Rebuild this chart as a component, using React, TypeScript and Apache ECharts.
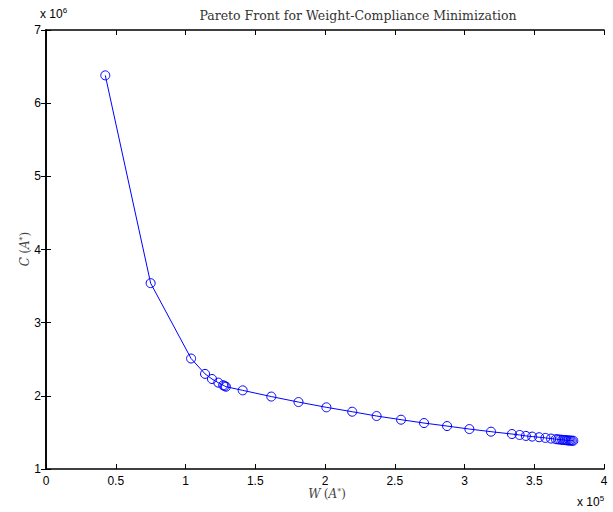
import React, { useEffect, useRef } from "react";
import * as echarts from "echarts";

// Weight W (in units of 1e5) and compliance C (in units of 1e6)
const weightE5: number[] = [
  0.425, 0.75, 1.04, 1.14, 1.19, 1.235, 1.27, 1.28, 1.29, 1.41, 1.615, 1.81,
  2.01, 2.195, 2.37, 2.545, 2.71, 2.875, 3.035, 3.19, 3.34, 3.395, 3.44, 3.485,
  3.535, 3.58, 3.62, 3.655, 3.67, 3.685, 3.7, 3.71, 3.72, 3.73, 3.74, 3.75,
  3.76, 3.77, 3.78,
];
const complianceE6: number[] = [
  6.38, 3.54, 2.51, 2.3, 2.23, 2.18, 2.145, 2.135, 2.125, 2.075, 1.99, 1.915,
  1.843, 1.783, 1.724, 1.674, 1.628, 1.587, 1.546, 1.51, 1.478, 1.465, 1.452,
  1.443, 1.434, 1.425, 1.416, 1.408, 1.405, 1.402, 1.399, 1.397, 1.395, 1.393,
  1.391, 1.389, 1.388, 1.387, 1.386,
];

const title = "Pareto Front for Weight-Compliance Minimization";
const xTicks = { min: 0, max: 4e5, interval: 0.5e5, scale: 1e5 };
const yTicks = { min: 1e6, max: 7e6, interval: 1e6, scale: 1e6 };

const G = { left: 46, right: 9, top: 30, bottom: 43 };

export default function App() {
  const ref = useRef<HTMLDivElement>(null);
  useEffect(() => {
    if (!ref.current) return;
    const chart = echarts.init(ref.current, null, { renderer: "svg" });
    const data = weightE5.map((w, i) => [w * 1e5, complianceE6[i] * 1e6]);
    const tickFont = {
      fontFamily: "Liberation Sans, Arial, sans-serif",
      fontSize: 12,
      color: "#000",
    };
    const axisLine = { show: true, lineStyle: { color: "#000", width: 1.6 } };
    const tick = { show: true, inside: true, length: 5, lineStyle: { color: "#000", width: 1 } };
    const mathRich = {
      i: { fontFamily: "DejaVu Serif, serif", fontStyle: "italic", fontSize: 12, fill: "#444" },
      n: { fontFamily: "DejaVu Serif, serif", fontSize: 12, fill: "#444" },
      s: { fontFamily: "DejaVu Serif, serif", fontSize: 8, fill: "#444", verticalAlign: "top", padding: [0, 0, 6, 0] },
    };
    const sciRich = {
      a: { fontFamily: "Liberation Sans, Arial, sans-serif", fontSize: 12, fill: "#000" },
      b: { fontFamily: "Liberation Sans, Arial, sans-serif", fontSize: 8, fill: "#000", verticalAlign: "top", padding: [0, 0, 8, 0] },
    };
    chart.setOption({
      animation: false,
      backgroundColor: "#fff",
      grid: { ...G },
      xAxis: [
        {
          type: "value",
          min: xTicks.min,
          max: xTicks.max,
          interval: xTicks.interval,
          position: "bottom",
          axisLine,
          axisTick: tick,
          splitLine: { show: false },
          axisLabel: {
            ...tickFont,
            margin: 6,
            formatter: (v: number) => String(+(v / xTicks.scale).toFixed(1)),
          },
        },
        {
          type: "value",
          min: xTicks.min,
          max: xTicks.max,
          interval: xTicks.interval,
          position: "top",
          axisLine,
          axisTick: tick,
          splitLine: { show: false },
          axisLabel: { show: false },
        },
      ],
      yAxis: [
        {
          type: "value",
          min: yTicks.min,
          max: yTicks.max,
          interval: yTicks.interval,
          position: "left",
          axisLine,
          axisTick: tick,
          splitLine: { show: false },
          axisLabel: {
            ...tickFont,
            margin: 5,
            formatter: (v: number) => String(+(v / yTicks.scale).toFixed(1)),
          },
        },
        {
          type: "value",
          min: yTicks.min,
          max: yTicks.max,
          interval: yTicks.interval,
          position: "right",
          axisLine,
          axisTick: tick,
          splitLine: { show: false },
          axisLabel: { show: false },
        },
      ],
      series: [
        {
          type: "line",
          data,
          xAxisIndex: 0,
          yAxisIndex: 0,
          symbol: "circle",
          symbolSize: 9,
          showAllSymbol: true,
          itemStyle: { color: "rgba(0,0,0,0)", borderColor: "#0000ff", borderWidth: 1 },
          lineStyle: { color: "#0000ff", width: 1 },
          emphasis: { disabled: true },
          z: 3,
        },
      ],
      graphic: [
        {
          type: "text",
          x: 358,
          y: 15,
          style: {
            text: title,
            fontFamily: "DejaVu Serif, serif",
            fontSize: 12.5,
            fill: "#333",
            align: "center",
            verticalAlign: "middle",
          },
        },
        {
          type: "text",
          x: 40,
          y: 6,
          style: { text: "{a|x 10}{b|6}", rich: sciRich },
        },
        {
          type: "text",
          x: 577,
          y: 494,
          style: { text: "{a|x 10}{b|5}", rich: sciRich },
        },
        {
          type: "text",
          x: 327,
          y: 494,
          style: {
            text: "{i|W} {n|(}{i|A}{s|*}{n|)}",
            rich: mathRich,
            align: "center",
            verticalAlign: "middle",
          },
        },
        {
          type: "text",
          x: 25,
          y: 249,
          rotation: Math.PI / 2,
          style: {
            text: "{i|C} {n|(}{i|A}{s|*}{n|)}",
            rich: mathRich,
            align: "center",
            verticalAlign: "middle",
          },
        },
      ],
    });
    return () => chart.dispose();
  }, []);
  return (
    <div
      ref={ref}
      style={{ position: "fixed", left: 0, top: 0, width: 613, height: 512, background: "#fff" }}
    />
  );
}
